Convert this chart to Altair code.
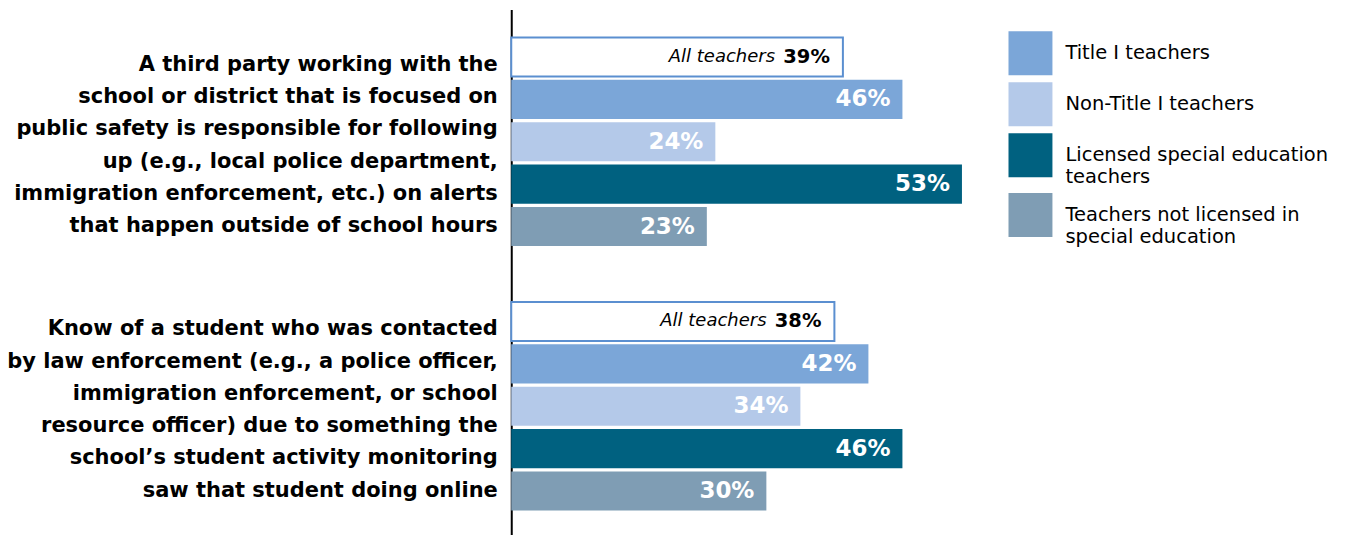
import altair as alt
import pandas as pd

# ---- data ----
question_lines = [
    ["A third party working with the",
     "school or district that is focused on",
     "public safety is responsible for following",
     "up (e.g., local police department,",
     "immigration enforcement, etc.) on alerts",
     "that happen outside of school hours"],
    ["Know of a student who was contacted ",
     "by law enforcement (e.g., a police officer, ",
     "immigration enforcement, or school",
     "resource officer) due to something the ",
     "school’s student activity monitoring",
     "saw that student doing online"],
]
groups = ["All teachers", "Title I teachers", "Non-Title I teachers",
          "Licensed special education teachers",
          "Teachers not licensed in special education"]
legend_lines = {
    "Licensed special education teachers": ["Licensed special education", "teachers"],
    "Teachers not licensed in special education": ["Teachers not licensed in", "special education"],
}
values_q1 = [39, 46, 24, 53, 23]
values_q2 = [38, 42, 34, 46, 30]
colors = ["#FFFFFF", "#7BA6D8", "#B4C9E9", "#006180", "#7F9DB4"]

# ---- table ----
qkeys = ["|".join(lines) for lines in question_lines]
rows = []
for q, vals in zip(qkeys, [values_q1, values_q2]):
    for g, v in zip(groups, vals):
        rows.append({"question": q, "group": g, "value": v, "label": f"{v}%"})
df = pd.DataFrame(rows)

FONT = "DejaVu Sans"

legend_expr = "datum.label"
for k, lines in legend_lines.items():
    arr = "[" + ", ".join(f"'{l}'" for l in lines) + "]"
    legend_expr = f"datum.label == '{k}' ? {arr} : ({legend_expr})"

y_enc = alt.Y(
    "question:N", sort=qkeys, title=None,
    scale=alt.Scale(paddingInner=0.211, paddingOuter=0.106),
    axis=alt.Axis(
        labelExpr="split(datum.label, '|')", ticks=False, labelPadding=14,
        domainColor="black", domainWidth=2, labelFont=FONT,
        labelFontWeight="bold", labelFontSize=21, labelLineHeight=32.3,
        labelLimit=0, labelColor="black", labelAlign="right",
        labelBaseline="middle", labelOffset=-77,
    ),
)
yoff_enc = alt.YOffset(
    "group:N", sort=groups,
    scale=alt.Scale(domain=groups, paddingInner=0.078, paddingOuter=0),
)
x_enc = alt.X("value:Q", scale=alt.Scale(domain=[0, 60]), axis=None)

base = alt.Chart(df).encode(y=y_enc, yOffset=yoff_enc, x=x_enc)

is_all = alt.datum.group == "All teachers"
not_all = alt.datum.group != "All teachers"

bars = base.mark_bar().encode(
    color=alt.Color(
        "group:N",
        scale=alt.Scale(domain=groups[1:], range=colors[1:]),
        legend=alt.Legend(
            title=None, orient="none", legendX=498, legendY=22,
            symbolType="square", symbolSize=1936, symbolStrokeWidth=0,
            labelFont=FONT, labelFontSize=19.5, labelColor="black",
            labelOffset=13, rowPadding=7, labelLimit=0,
            labelExpr=legend_expr,
        ),
    )
).transform_filter(not_all)

all_bar = base.mark_bar(
    fill=colors[0], stroke="#5B8FD0", strokeWidth=2
).transform_filter(is_all)

val_text = base.mark_text(
    align="right", baseline="middle", dx=-12, font=FONT,
    fontWeight="bold", fontSize=23, color="white",
).encode(text="label:N").transform_filter(not_all)

all_val = base.mark_text(
    align="right", baseline="middle", dx=-13, font=FONT,
    fontWeight="bold", fontSize=19.5, color="black",
).encode(text="label:N").transform_filter(is_all)

all_name = base.mark_text(
    align="right", baseline="middle", dx=-68, font=FONT,
    fontStyle="italic", fontSize=18, color="black",
).encode(text="group:N").transform_filter(is_all)

chart = alt.layer(bars, all_bar, val_text, all_val, all_name).properties(
    width=511, height=530,
    autosize=alt.AutoSizeParams(type="none"),
    padding={"left": 504, "top": 1, "right": 322, "bottom": 0},
).configure_view(stroke=None)

chart.save("out.html", embed_options={"renderer": "svg", "actions": False})
